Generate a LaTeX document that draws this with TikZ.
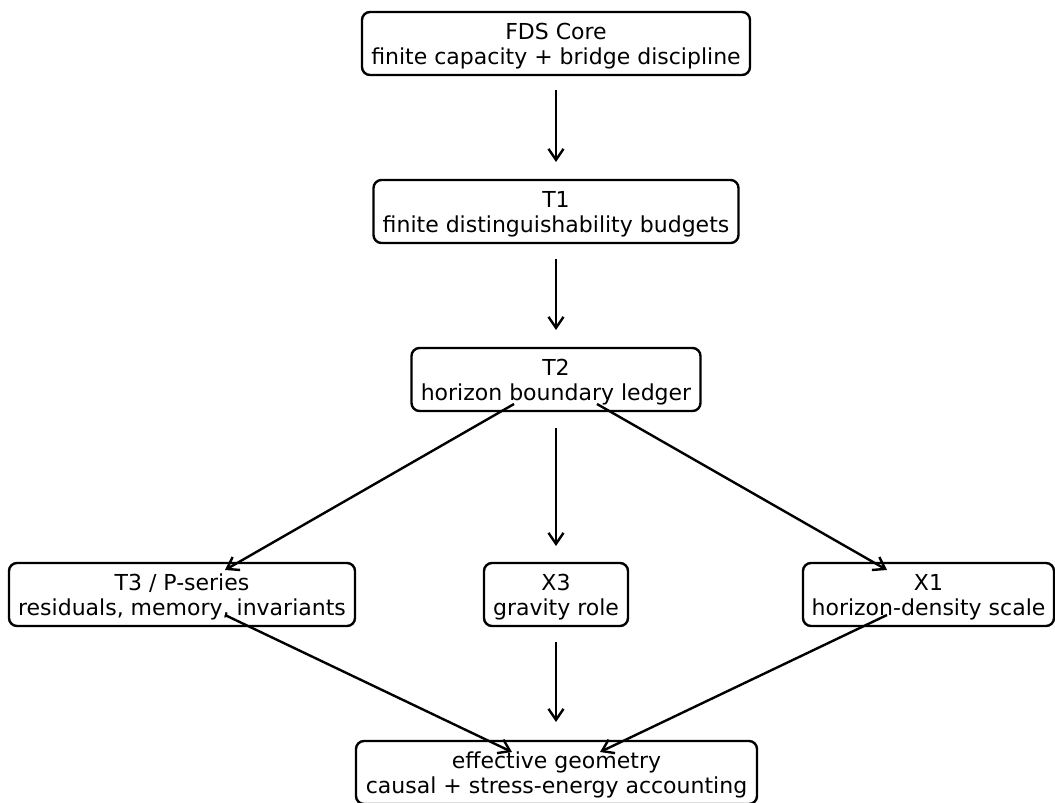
\documentclass[tikz,border=0pt]{standalone}
\usepackage{fontspec}
\setmainfont{DejaVu Sans}
\usetikzlibrary{arrows.meta}
\begin{document}
\begin{tikzpicture}[x=1pt,y=-1pt,
  box/.style={draw=black, line width=2.4pt, rounded corners=8pt, fill=white,
    minimum height=63pt, inner xsep=0pt, inner ysep=0pt, align=center,
    text depth=0pt, font=\fontsize{22}{25}\selectfont},
  arr/.style={line width=2.4pt, -{Straight Barb[length=11pt,width=15pt,line width=2.4pt]}}]
\useasboundingbox (0,0) rectangle (1055,803);
\node[box, minimum width=388pt] (core) at (556,43.5) {FDS Core\\finite capacity + bridge discipline};
\node[box, minimum width=365pt] (t1) at (556,211.5) {T1\\finite distinguishability budgets};
\node[box, minimum width=289pt] (t2) at (556,379.5) {T2\\horizon boundary ledger};
\node[box, minimum width=346pt] (t3) at (182,594.5) {T3 / P-series\\residuals, memory, invariants};
\node[box, minimum width=144pt] (x3) at (556,594.5) {X3\\gravity role};
\node[box, minimum width=251pt] (x1) at (928.5,594.5) {X1\\horizon-density scale};
\node[box, minimum width=401pt] (eg) at (556.5,772.5) {effective geometry\\causal + stress-energy accounting};
\coordinate (c1s) at (556,90);   \coordinate (c1e) at (556,162);
\coordinate (c2s) at (556,259);  \coordinate (c2e) at (556,330);
\coordinate (t2l) at (514,404);  \coordinate (t3t) at (225,570);
\coordinate (t2m) at (556,428);  \coordinate (x3t) at (556,546);
\coordinate (t2r) at (597,404);  \coordinate (x1t) at (887,570);
\coordinate (t3b) at (225,615);  \coordinate (egl) at (512,752);
\coordinate (x3b) at (556,642);  \coordinate (egm) at (556,722);
\coordinate (x1b) at (887,615);  \coordinate (egr) at (600,752);
\draw[arr] (c1s) -- (c1e);
\draw[arr] (c2s) -- (c2e);
\draw[arr] (t2l) -- (t3t);
\draw[arr] (t2m) -- (x3t);
\draw[arr] (t2r) -- (x1t);
\draw[arr] (t3b) -- (egl);
\draw[arr] (x3b) -- (egm);
\draw[arr] (x1b) -- (egr);
\end{tikzpicture}
\end{document}
